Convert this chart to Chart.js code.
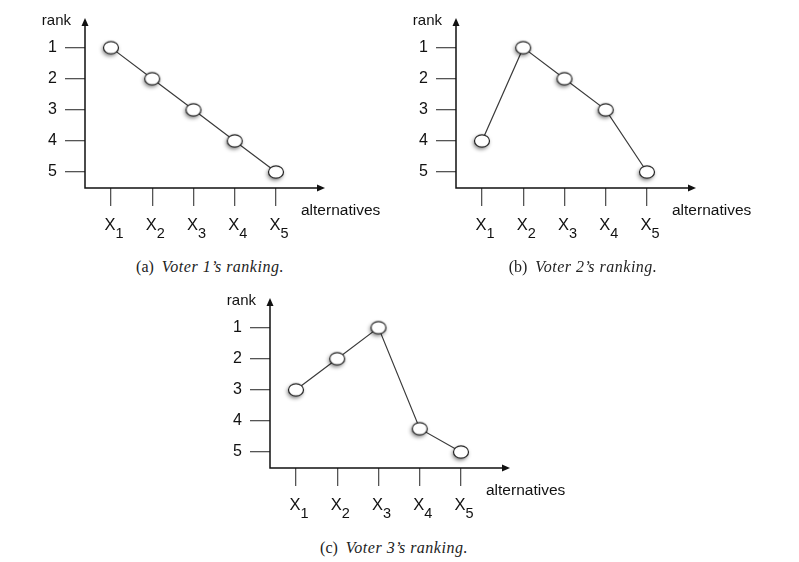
<!DOCTYPE html>
<html><head><meta charset="utf-8">
<script src="https://cdn.jsdelivr.net/npm/chart.js@4.4.1/dist/chart.umd.min.js"></script>
<style>
html,body{margin:0;padding:0;background:#fff;width:799px;height:562px;overflow:hidden}
body{position:relative}
.panel{position:absolute;width:395px;height:250px}
.panel canvas{display:block}
.cap{position:absolute;font-family:"Liberation Serif","DejaVu Serif",serif;font-size:16px;line-height:18px;color:#222;white-space:nowrap;transform:translateX(-50%)}
.cap i{letter-spacing:0.5px}
</style></head><body>
<div class="panel" style="left:0px;top:0px"><canvas id="c1" width="395" height="250"></canvas></div>
<div class="panel" style="left:371px;top:0px"><canvas id="c2" width="395" height="250"></canvas></div>
<div class="panel" style="left:185px;top:280px"><canvas id="c3" width="395" height="250"></canvas></div>
<div class="cap" style="left:210px;top:258px">(a)&nbsp;&nbsp;<i>Voter 1’s ranking.</i></div>
<div class="cap" style="left:583px;top:258px">(b)&nbsp;&nbsp;<i>Voter 2’s ranking.</i></div>
<div class="cap" style="left:394px;top:539px">(c)&nbsp;&nbsp;<i>Voter 3’s ranking.</i></div>
<script>
// ---- data ----
const altPositions = [1, 2, 3, 4, 5];
const altSubscripts = ['1', '2', '3', '4', '5'];
const rankTicks = [1, 2, 3, 4, 5];
const voter1Ranks = [1, 2, 3, 4, 5];
const voter2Ranks = [4, 1, 2, 3, 5];
const voter3Ranks = [3, 2, 1, 4.25, 5];

const SANS = '"Liberation Sans", Arial, Helvetica, sans-serif';

// ellipse marker with soft shadow
const marker = document.createElement('canvas');
marker.width = 30; marker.height = 30;
(function(){
  const m = marker.getContext('2d');
  m.shadowColor = 'rgba(0,0,0,0.55)';
  m.shadowBlur = 4; m.shadowOffsetX = -1; m.shadowOffsetY = 2;
  m.beginPath(); m.ellipse(15, 15, 7.5, 6.2, 0, 0, Math.PI * 2);
  m.fillStyle = '#fff'; m.fill();
  m.shadowColor = 'transparent';
  m.lineWidth = 1.2; m.strokeStyle = '#222'; m.stroke();
})();

const axesPlugin = {
  id: 'axes',
  beforeDatasetsDraw(chart) {
    const ctx = chart.ctx;
    const {left: L, right: R, top: T, bottom: B} = chart.chartArea;
    ctx.save();
    ctx.strokeStyle = '#111'; ctx.fillStyle = '#111'; ctx.lineWidth = 1.5;
    ctx.beginPath();
    ctx.moveTo(L, B); ctx.lineTo(L, T + 6);
    ctx.moveTo(L - 0.75, B); ctx.lineTo(R - 6, B);
    ctx.stroke();
    ctx.beginPath(); ctx.moveTo(L, T); ctx.lineTo(L - 3.5, T + 8); ctx.lineTo(L + 3.5, T + 8); ctx.closePath(); ctx.fill();
    ctx.beginPath(); ctx.moveTo(R, B); ctx.lineTo(R - 8, B - 3.5); ctx.lineTo(R - 8, B + 3.5); ctx.closePath(); ctx.fill();
    ctx.font = '15px ' + SANS;
    ctx.textBaseline = 'alphabetic';
    ctx.textAlign = 'right';
    ctx.fillText('rank', L - 14, T + 7);
    ctx.textAlign = 'left';
    ctx.font = '15.5px ' + SANS;
    ctx.fillText('alternatives', R - 24, B + 27);
    const xs = chart.scales.x;
    altPositions.forEach((v, i) => {
      const px = xs.getPixelForValue(v);
      ctx.font = '16.5px ' + SANS;
      ctx.fillText('X', px - 6.5, B + 41.5);
      const w = ctx.measureText('X').width;
      ctx.font = '14.5px ' + SANS;
      ctx.fillText(altSubscripts[i], px - 6.5 + w, B + 50);
    });
    ctx.restore();
  }
};

function makeChart(id, ranks) {
  return new Chart(document.getElementById(id), {
    type: 'line',
    data: {
      datasets: [{
        data: altPositions.map((x, i) => ({x: x, y: ranks[i]})),
        borderColor: '#3a3a3a', borderWidth: 1.2,
        pointStyle: marker, pointRadius: 7, pointHoverRadius: 7,
        tension: 0, clip: false, fill: false
      }]
    },
    options: {
      responsive: false, animation: false, events: [],
      layout: {padding: {left: 0, top: 18, right: 70, bottom: 22}},
      plugins: {legend: {display: false}, tooltip: {enabled: false}, title: {display: false}},
      scales: {
        x: {
          type: 'linear', min: 0.37, max: 6.188,
          afterBuildTicks: s => { s.ticks = altPositions.map(v => ({value: v})); },
          afterFit: s => { s.height = 40; },
          ticks: {display: false, autoSkip: false},
          grid: {display: true, drawOnChartArea: false, drawTicks: true, tickLength: 18, color: '#555', lineWidth: 1.3},
          border: {display: false}
        },
        y: {
          type: 'linear', reverse: true, min: 0.047, max: 5.514,
          afterBuildTicks: s => { s.ticks = rankTicks.map(v => ({value: v})); },
          afterFit: s => { s.width = 85; },
          ticks: {padding: 8, autoSkip: false, color: '#111', font: {family: SANS, size: 16}},
          grid: {display: true, drawOnChartArea: false, drawTicks: true, tickLength: 20, color: '#555', lineWidth: 1.3},
          border: {display: false}
        }
      }
    },
    plugins: [axesPlugin]
  });
}

makeChart('c1', voter1Ranks);
makeChart('c2', voter2Ranks);
makeChart('c3', voter3Ranks);
</script>
</body></html>
